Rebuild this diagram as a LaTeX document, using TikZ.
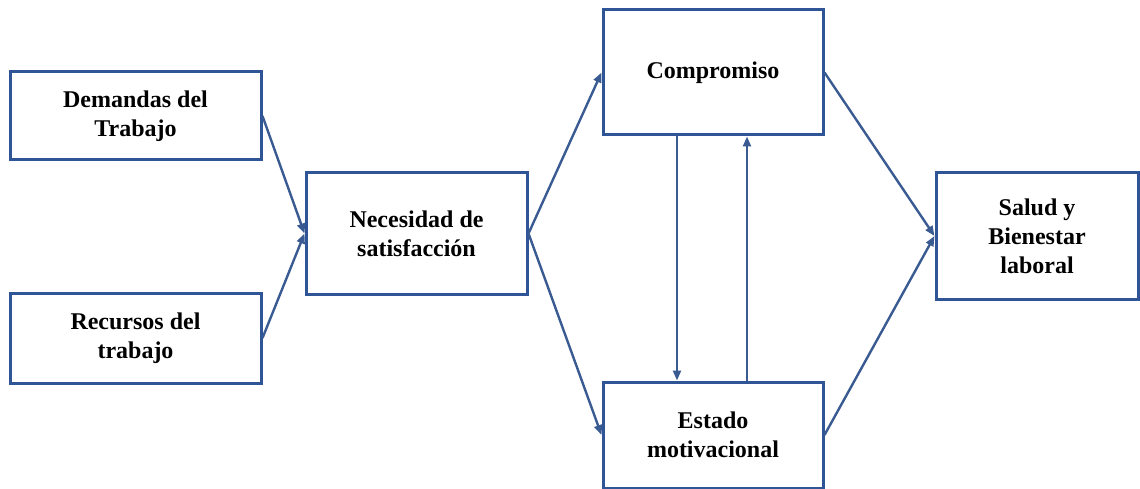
\documentclass[tikz,border=0pt]{standalone}
\usepackage{fontspec}
\setmainfont{Liberation Serif}
\usetikzlibrary{arrows.meta}
\definecolor{boxc}{HTML}{2F5597}
\definecolor{arrc}{HTML}{3A5A92}
\begin{document}
\begin{tikzpicture}[x=1pt,y=-1pt,
  box/.style={draw=boxc,line width=3pt,fill=white,inner sep=0pt,align=center,
    font=\fontsize{24}{29}\selectfont\bfseries},
  conn/.style={draw=arrc,line width=2.4pt,-{Triangle[length=10pt,width=8pt]}}]
\useasboundingbox (0,0) rectangle (1140,489);
\node[box,minimum width=251pt,minimum height=88pt] (dem) at (135.5,116) {Demandas del\\Trabajo};
\node[box,minimum width=251pt,minimum height=90pt] (rec) at (135.5,338) {Recursos del\\trabajo};
\node[box,minimum width=221pt,minimum height=121pt] (nec) at (416.5,233.5) {Necesidad de\\satisfacción};
\node[box,minimum width=220pt,minimum height=125pt] (com) at (713,72.5) {Compromiso};
\node[box,minimum width=220pt,minimum height=106pt] (est) at (713,435) {Estado\\motivacional};
\node[box,minimum width=202pt,minimum height=127pt] (sal) at (1037,236) {Salud y\\Bienestar\\laboral};
\draw[conn] (dem.east) -- (nec.west);
\draw[conn] (rec.east) -- (nec.west);
\draw[conn] (nec.east) -- (com.west);
\draw[conn] (nec.east) -- (est.west);
\draw[conn] (com.east) -- (sal.west);
\draw[conn] (est.east) -- (sal.west);
\draw[conn] ([xshift=-36pt]com.south) -- ([xshift=-36pt]est.north);
\draw[conn] ([xshift=34pt]est.north) -- ([xshift=34pt]com.south);
\end{tikzpicture}
\end{document}
